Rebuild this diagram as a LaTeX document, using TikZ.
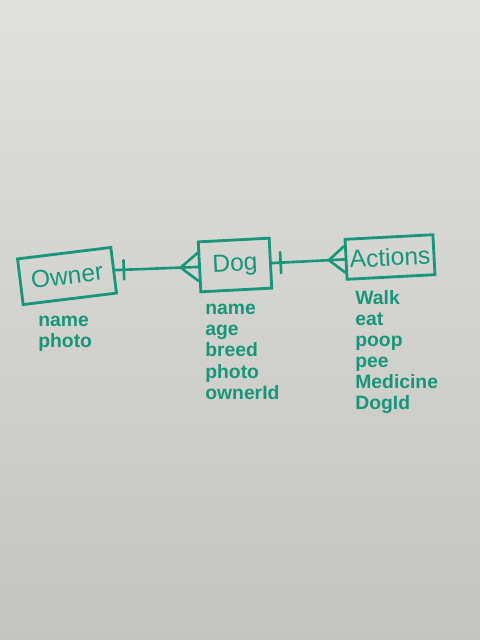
\documentclass[tikz,border=0pt]{standalone}
\usepackage{fontspec}
\setmainfont{Liberation Sans}
\usepackage{xcolor}
\usepackage{tikz}
\usetikzlibrary{calc, positioning}

\definecolor{marker}{RGB}{24,150,122}
\definecolor{boardtop}{RGB}{224,224,221}
\definecolor{boardbot}{RGB}{196,196,193}

\begin{document}
\begin{tikzpicture}[
  x=0.02cm, y=-0.02cm,
  entity/.style={rectangle, draw=marker, line width=1.6pt, text=marker,
                 align=center, inner sep=2pt, font=\fontsize{14}{16}\selectfont},
  attrs/.style={anchor=north west, align=left, inner sep=0pt, text=marker,
                font=\bfseries\fontsize{11}{12}\selectfont},
  link/.style={draw=marker, line width=1.5pt, line cap=round}
]

% whiteboard
\shade[top color=boardtop, bottom color=boardbot] (0,0) rectangle (480,640);

\node[entity, minimum width=94*0.02cm, minimum height=46*0.02cm, rotate=7] (owner) at (67,276) {Owner};
\node[entity, minimum width=71*0.02cm, minimum height=50*0.02cm, rotate=3] (dog) at (235,265) {Dog};
\node[entity, minimum width=88*0.02cm, minimum height=40*0.02cm, rotate=3] (actions) at (390,257) {Actions};

\node[attrs] (ownerattrs) at (38,316) {name\\photo};
\node[attrs] (dogattrs) at (205,304) {name\\age\\breed\\photo\\ownerId};
\node[attrs] (actionattrs) at (355,290) {Walk\\eat\\poop\\pee\\Medicine\\DogId};

% owner -- dog
\draw[link] (owner.east) -- (dog.west);
\coordinate (b1) at ($(owner.east)!5pt!(dog.west)$);
\draw[link] ($(b1)!5.5pt!90:(dog.west)$) -- ($(b1)!5.5pt!-90:(dog.west)$);
\coordinate (c1) at ($(dog.west)!10pt!(owner.east)$);
\draw[link] ($(dog.west)!8pt!90:(owner.east)$) -- (c1) -- ($(dog.west)!8pt!-90:(owner.east)$);

% dog -- actions
\draw[link] (dog.east) -- (actions.west);
\coordinate (b2) at ($(dog.east)!5pt!(actions.west)$);
\draw[link] ($(b2)!6pt!90:(actions.west)$) -- ($(b2)!6pt!-90:(actions.west)$);
\coordinate (c2) at ($(actions.west)!9pt!(dog.east)$);
\draw[link] ($(actions.west)!7.5pt!90:(dog.east)$) -- (c2) -- ($(actions.west)!7.5pt!-90:(dog.east)$);
\end{tikzpicture}
\end{document}
